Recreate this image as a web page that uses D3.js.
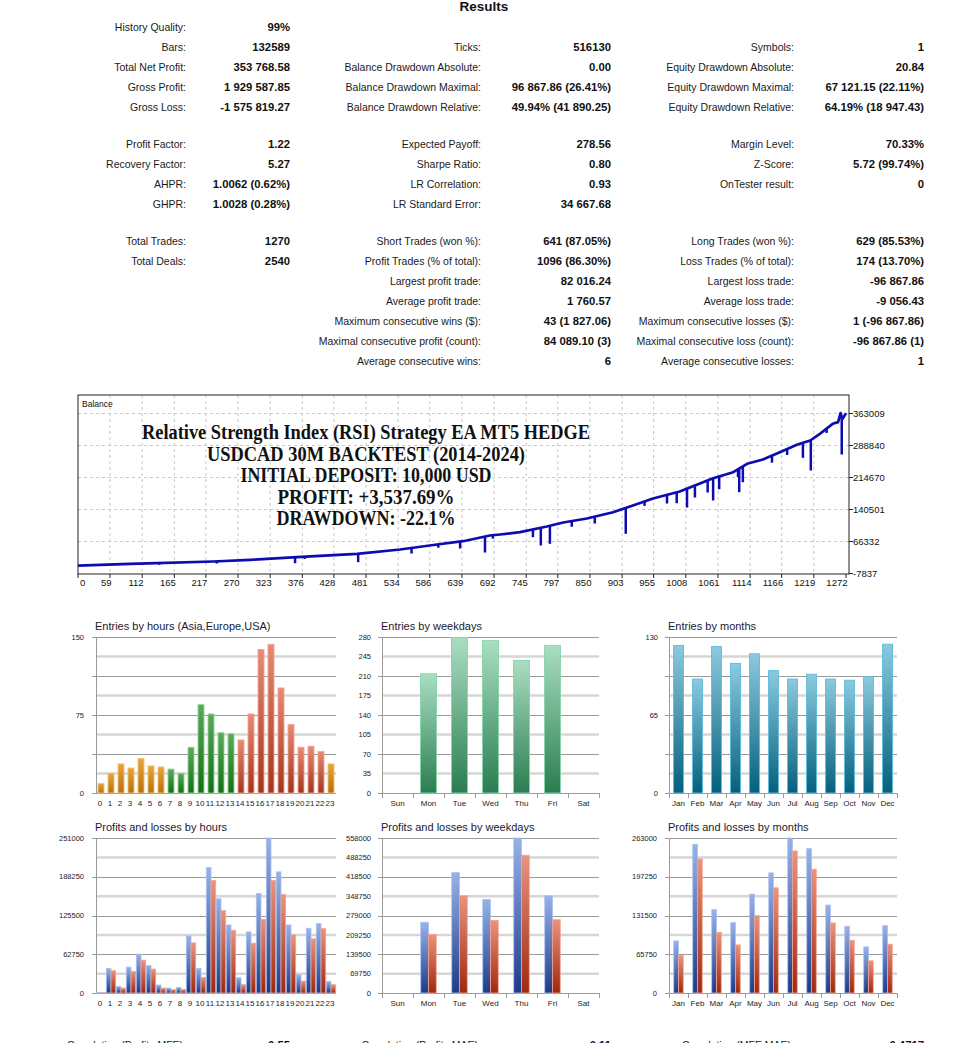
<!DOCTYPE html>
<html><head><meta charset="utf-8">
<script src="https://cdn.jsdelivr.net/npm/d3@7"></script>
<style>body{margin:0;background:#fff} svg{display:block}</style>
</head><body>
<svg id="c" width="964" height="1043"></svg>
<script>
// ---------------- DATA ----------------
const statsCol1 = [
  ["History Quality:", "99%"], ["Bars:", "132589"], ["Total Net Profit:", "353 768.58"],
  ["Gross Profit:", "1 929 587.85"], ["Gross Loss:", "-1 575 819.27"],
  ["Profit Factor:", "1.22"], ["Recovery Factor:", "5.27"], ["AHPR:", "1.0062 (0.62%)"], ["GHPR:", "1.0028 (0.28%)"],
  ["Total Trades:", "1270"], ["Total Deals:", "2540"], null, null, null, null, null
];
const statsCol2 = [
  null, ["Ticks:", "516130"], ["Balance Drawdown Absolute:", "0.00"],
  ["Balance Drawdown Maximal:", "96 867.86 (26.41%)"], ["Balance Drawdown Relative:", "49.94% (41 890.25)"],
  ["Expected Payoff:", "278.56"], ["Sharpe Ratio:", "0.80"], ["LR Correlation:", "0.93"], ["LR Standard Error:", "34 667.68"],
  ["Short Trades (won %):", "641 (87.05%)"], ["Profit Trades (% of total):", "1096 (86.30%)"],
  ["Largest profit trade:", "82 016.24"], ["Average profit trade:", "1 760.57"],
  ["Maximum consecutive wins ($):", "43 (1 827.06)"], ["Maximal consecutive profit (count):", "84 089.10 (3)"],
  ["Average consecutive wins:", "6"]
];
const statsCol3 = [
  null, ["Symbols:", "1"], ["Equity Drawdown Absolute:", "20.84"],
  ["Equity Drawdown Maximal:", "67 121.15 (22.11%)"], ["Equity Drawdown Relative:", "64.19% (18 947.43)"],
  ["Margin Level:", "70.33%"], ["Z-Score:", "5.72 (99.74%)"], ["OnTester result:", "0"], null,
  ["Long Trades (won %):", "629 (85.53%)"], ["Loss Trades (% of total):", "174 (13.70%)"],
  ["Largest loss trade:", "-96 867.86"], ["Average loss trade:", "-9 056.43"],
  ["Maximum consecutive losses ($):", "1 (-96 867.86)"], ["Maximal consecutive loss (count):", "-96 867.86 (1)"],
  ["Average consecutive losses:", "1"]
];
const correlationRow = [["Correlation (Profits,MFE):", "0.55"], ["Correlation (Profits,MAE):", "0.11"], ["Correlation (MFE,MAE):", "0.4717"]];

const balanceTitleLines = ["Relative Strength Index (RSI) Strategy EA MT5 HEDGE", "USDCAD 30M BACKTEST (2014-2024)",
  "INITIAL DEPOSIT: 10,000 USD", "PROFIT: +3,537.69%", "DRAWDOWN: -22.1%"];
const balXTicks = [0, 59, 112, 165, 217, 270, 323, 376, 428, 481, 534, 586, 639, 692, 745, 797, 850, 903, 955, 1008, 1061, 1114, 1166, 1219, 1272];
const balYTicks = [-7837, 66332, 140501, 214670, 288840, 363009];
const balTrades = [0, 92, 136, 229, 290, 367, 466, 537, 598, 641, 685, 702, 735, 779, 806, 845, 888, 916, 954, 998, 1053, 1086, 1109, 1135, 1163, 1191, 1213, 1229, 1250, 1259, 1263, 1266, 1272];
const balValues = [10000, 14600, 16000, 20000, 23900, 29900, 37800, 47800, 59400, 67000, 80200, 82600, 87900, 101100, 110400, 119600, 134200, 147500, 166000, 182200, 213000, 227000, 246400, 256400, 273300, 290500, 300400, 316000, 339100, 343000, 364000, 350000, 363768];
const spikeTrades = [140, 235, 364, 380, 468, 556, 600, 636, 677, 690, 756, 769, 784, 820, 858, 909, 940, 977, 993, 1010, 1023, 1044, 1053, 1063, 1094, 1096, 1102, 1150, 1175, 1201, 1214, 1240, 1265];
const spikeLows = [12300, 15300, 16000, 26000, 18400, 38500, 52000, 50100, 40800, 73000, 76300, 57100, 61000, 100500, 108000, 84200, 149000, 154400, 155100, 145100, 168300, 179900, 161400, 187500, 215400, 180600, 203800, 249000, 267000, 260300, 230900, 318000, 268000];

const hours = d3.range(24).map(String);
const hourSession = ["Asia","Asia","Asia","Asia","Asia","Asia","Asia","Europe","Europe","Europe","Europe","Europe","Europe","Europe",
  "USA","USA","USA","USA","USA","USA","USA","USA","USA","Asia"];
const hourEntries = [9, 19, 28, 24, 33, 26, 25, 23, 19, 44, 85, 76, 58, 57, 51, 76, 138, 143, 101, 66, 44, 45, 40, 28];
const hourEntryTicks = [0, 75, 150];
const weekdays = ["Sun", "Mon", "Tue", "Wed", "Thu", "Fri", "Sat"];
const weekdayEntries = [0, 214, 279, 274, 238, 265, 0];
const weekdayEntryTicks = [0, 35, 70, 105, 140, 175, 210, 245, 280];
const months = ["Jan", "Feb", "Mar", "Apr", "May", "Jun", "Jul", "Aug", "Sep", "Oct", "Nov", "Dec"];
const monthEntries = [123, 95, 122, 108, 116, 102, 95, 99, 95, 94, 97, 124];
const monthEntryTicks = [0, 65, 130];

const hourProfits = [1000, 40000, 10750, 41900, 62900, 44600, 12900, 8060, 9140, 92450, 39770, 203160, 152640, 110180, 24720, 98900, 161240, 251000, 196180, 110180, 29560, 104810, 112330, 18810];
const hourLosses = [600, 36000, 8060, 34940, 53210, 38700, 8060, 5370, 5910, 81160, 25260, 182200, 133300, 101580, 13440, 80620, 119320, 182200, 159630, 94060, 19350, 87610, 104270, 13440];
const hourPLTicks = [0, 62750, 125500, 188250, 251000];
const weekdayProfits = [0, 254500, 433700, 336950, 558000, 350100, 0];
const weekdayLosses = [0, 210300, 350100, 261700, 495860, 264060, 0];
const weekdayPLTicks = [0, 69750, 139500, 209250, 279000, 348750, 418500, 488250, 558000];
const monthProfits = [88420, 252300, 141350, 119390, 167830, 203870, 263000, 244980, 149240, 113200, 78280, 114320];
const monthLosses = [63640, 227520, 103060, 81660, 131220, 178520, 241040, 210060, 118830, 89540, 54630, 82790];
const monthPLTicks = [0, 65750, 131500, 197250, 263000];

// ---------------- DRAW ----------------
const SANS = "'Liberation Sans', Arial, sans-serif";
const svg = d3.select("#c");
const defs = svg.append("defs");
function grad(id, top, bottom) {
  const g = defs.append("linearGradient").attr("id", id).attr("x1", 0).attr("y1", 0).attr("x2", 0).attr("y2", 1);
  g.append("stop").attr("offset", "0%").attr("stop-color", top);
  g.append("stop").attr("offset", "100%").attr("stop-color", bottom);
}
grad("gAsia", "#e8a43c", "#b8700c");
grad("gEurope", "#5aaa5a", "#137017");
grad("gUSA", "#e88a76", "#a2361c");
grad("gWeek", "#aadec2", "#2a7d50");
grad("gMonth", "#8ccadf", "#04607c");
grad("gProfit", "#98b2e8", "#1d3a88");
grad("gLoss", "#ea937e", "#a0280e");
const sessionFill = {Asia: "url(#gAsia)", Europe: "url(#gEurope)", USA: "url(#gUSA)"};
const sessionStroke = {Asia: "#f4c074", Europe: "#98d498", USA: "#f2a696"};

// Title
svg.append("text").attr("x", 484).attr("y", 10.5).attr("text-anchor", "middle")
  .attr("font-family", SANS).attr("font-weight", "bold").attr("font-size", 13.5).attr("fill", "#111").text("Results");

// Stats table
const rowY = i => 27 + 20 * i + (i >= 5 ? 17 : 0) + (i >= 9 ? 17 : 0);
[[statsCol1, 186, 290], [statsCol2, 481, 611], [statsCol3, 794, 924]].forEach(([col, lx, vx]) => {
  col.forEach((r, i) => {
    if (!r) return;
    svg.append("text").attr("x", lx).attr("y", rowY(i)).attr("dy", "0.35em").attr("text-anchor", "end")
      .attr("font-family", SANS).attr("font-size", 10.5).attr("fill", "#1a1a1a").text(r[0]);
    svg.append("text").attr("x", vx).attr("y", rowY(i)).attr("dy", "0.35em").attr("text-anchor", "end")
      .attr("font-family", SANS).attr("font-weight", "bold").attr("font-size", 11.3).attr("fill", "#111").text(r[1]);
  });
});
[[186, 290], [481, 611], [794, 924]].forEach(([lx, vx], i) => {
  svg.append("text").attr("x", lx).attr("y", 1049).attr("text-anchor", "end")
    .attr("font-family", SANS).attr("font-size", 10.5).attr("fill", "#1a1a1a").text(correlationRow[i][0]);
  svg.append("text").attr("x", vx).attr("y", 1049).attr("text-anchor", "end")
    .attr("font-family", SANS).attr("font-weight", "bold").attr("font-size", 11.3).attr("fill", "#111").text(correlationRow[i][1]);
});

// Balance chart
const bL = 78, bR = 849, bT = 395, bB = 574;
const xBal = d3.scaleLinear().domain([0, 1272]).range([74.2, 846]);
const yBal = d3.scaleLinear().domain([-7837, 363009]).range([573.5, 413.5]);
const bg = svg.append("g");
bg.append("rect").attr("x", bL).attr("y", bT).attr("width", bR - bL).attr("height", bB - bT).attr("fill", "#fff");
balXTicks.slice(1, -1).forEach(t => {
  bg.append("line").attr("x1", xBal(t)).attr("x2", xBal(t)).attr("y1", bT).attr("y2", bB)
    .attr("stroke", "#c8c8c8").attr("stroke-dasharray", "3,3");
});
balYTicks.slice(1).forEach(t => {
  bg.append("line").attr("x1", bL).attr("x2", bR).attr("y1", yBal(t)).attr("y2", yBal(t))
    .attr("stroke", "#c8c8c8").attr("stroke-dasharray", "3,3");
});
bg.append("text").attr("x", 82).attr("y", 407).attr("font-family", SANS).attr("font-size", 8.5).attr("fill", "#111").text("Balance");
// title lines
const tWidths = [448, 318, 251, 177, 179];
balanceTitleLines.forEach((s, i) => {
  bg.append("text").attr("x", 366).attr("y", 439 + i * 21.6).attr("text-anchor", "middle")
    .attr("font-family", "'Liberation Serif', 'DejaVu Serif', serif").attr("font-weight", "bold").attr("font-size", 20)
    .attr("textLength", tWidths[i]).attr("lengthAdjust", "spacingAndGlyphs").attr("fill", "#111").text(s);
});
defs.append("clipPath").attr("id", "balClip").append("rect").attr("x", bL).attr("y", bT).attr("width", bR - bL).attr("height", bB - bT);
const balData = balTrades.map((t, i) => [t, balValues[i]]);
const balAt = t => {
  const i = d3.bisector(d => d[0]).left(balData, t);
  if (i <= 0) return balData[0][1];
  if (i >= balData.length) return balData[balData.length - 1][1];
  const a = balData[i - 1], b = balData[i];
  return a[1] + (b[1] - a[1]) * (t - a[0]) / (b[0] - a[0]);
};
const cg = bg.append("g").attr("clip-path", "url(#balClip)");
spikeTrades.forEach((t, i) => {
  cg.append("line").attr("x1", xBal(t)).attr("x2", xBal(t)).attr("y1", yBal(balAt(t))).attr("y2", yBal(spikeLows[i]))
    .attr("stroke", "#0c0cb0").attr("stroke-width", 2.5);
});
cg.append("path").datum(balData).attr("d", d3.line().x(d => xBal(d[0])).y(d => yBal(d[1])))
  .attr("fill", "none").attr("stroke", "#0c0cb0").attr("stroke-width", 2.7).attr("stroke-linejoin", "round");
bg.append("rect").attr("x", bL).attr("y", bT).attr("width", bR - bL).attr("height", bB - bT)
  .attr("fill", "none").attr("stroke", "#222").attr("stroke-width", 1);
balXTicks.forEach((t, i) => {
  const xx = i === 0 ? bL : xBal(t);
  bg.append("line").attr("x1", xx).attr("x2", xx).attr("y1", bB).attr("y2", bB + 4).attr("stroke", "#222");
  bg.append("text").attr("x", i === 0 ? 80 : xx + 1.5).attr("y", 585.5).attr("text-anchor", i === 0 ? "start" : "end")
    .attr("font-family", SANS).attr("font-size", 9.5).attr("fill", "#111").text(t);
});
balYTicks.forEach(t => {
  bg.append("line").attr("x1", bR).attr("x2", bR + 4).attr("y1", yBal(t)).attr("y2", yBal(t)).attr("stroke", "#222");
  bg.append("text").attr("x", 853).attr("y", yBal(t)).attr("dy", "0.35em")
    .attr("font-family", SANS).attr("font-size", 9.5).attr("fill", "#111").text(t);
});

// Bar panels
function panel(o) {
  const x = d3.scaleBand().domain(o.cats).range([o.x0, o.x1]);
  const y = d3.scaleLinear().domain([0, o.max]).range([o.bottom, o.top]);
  const g = svg.append("g");
  g.append("text").attr("x", o.x0 - 1).attr("y", o.top - 7).attr("font-family", SANS).attr("font-size", 11)
    .attr("fill", "#1a1a33").text(o.title);
  for (let i = 1; i <= 8; i += 2) {
    const yy = y(o.max * i / 8);
    g.append("line").attr("x1", o.x0).attr("x2", o.x1).attr("y1", yy).attr("y2", yy).attr("stroke", "#d6d6d6").attr("stroke-width", 2.5);
  }
  for (let i = 0; i <= 8; i += 2) {
    const yy = Math.round(y(o.max * i / 8)) + 0.5;
    g.append("line").attr("x1", o.x0 - 4).attr("x2", o.x1).attr("y1", yy).attr("y2", yy).attr("stroke", "#9a9a9a").attr("stroke-width", 1);
  }
  g.append("line").attr("x1", o.x0 + 0.5).attr("x2", o.x0 + 0.5).attr("y1", o.top).attr("y2", o.bottom + (o.xTicks ? 5 : 0)).attr("stroke", "#9a9a9a");
  if (o.xTicks) {
    o.cats.forEach(c => {
      const xx = Math.round(x(c) + x.bandwidth()) + 0.5;
      g.append("line").attr("x1", xx).attr("x2", xx).attr("y1", o.bottom).attr("y2", o.bottom + 5).attr("stroke", "#9a9a9a");
    });
  }
  o.ticks.forEach(v => {
    g.append("text").attr("x", o.labelX).attr("y", y(v)).attr("dy", "0.35em").attr("text-anchor", "end")
      .attr("font-family", SANS).attr("font-size", 7.5).attr("fill", "#222").text(v);
  });
  o.cats.forEach(c => {
    g.append("text").attr("x", x(c) + x.bandwidth() / 2 + (o.labelShift || 0)).attr("y", o.bottom + 12.5).attr("text-anchor", "middle")
      .attr("font-family", SANS).attr("font-size", 8).attr("fill", "#222").text(c);
  });
  const bw = x.bandwidth();
  if (o.values) {
    o.cats.forEach((c, i) => {
      const v = o.values[i]; if (!v) return;
      const w = bw * o.frac;
      g.append("rect").attr("x", x(c) + (bw - w) / 2).attr("y", y(v)).attr("width", w).attr("height", y(0) - y(v))
        .attr("fill", o.fill(i)).attr("stroke", o.stroke(i)).attr("stroke-width", 0.9);
    });
  } else {
    o.cats.forEach((c, i) => {
      const half = bw * o.frac / 2, cx = x(c) + bw / 2;
      const p = o.profits[i], l = o.losses[i];
      if (p) g.append("rect").attr("x", cx - half).attr("y", y(p)).attr("width", half).attr("height", y(0) - y(p))
        .attr("fill", "url(#gProfit)").attr("stroke", "#a8c0f0").attr("stroke-width", 0.8);
      if (l) g.append("rect").attr("x", cx).attr("y", y(l)).attr("width", half).attr("height", y(0) - y(l))
        .attr("fill", "url(#gLoss)").attr("stroke", "#f2a48e").attr("stroke-width", 0.8);
    });
  }
}

panel({x0: 96, x1: 336, top: 637, bottom: 793, title: "Entries by hours (Asia,Europe,USA)", cats: hours, max: 150,
  ticks: hourEntryTicks, labelX: 84, values: hourEntries, frac: 0.6, labelShift: -1,
  fill: i => sessionFill[hourSession[i]], stroke: i => sessionStroke[hourSession[i]]});
panel({x0: 382, x1: 599, top: 637, bottom: 793, title: "Entries by weekdays", cats: weekdays, max: 280,
  ticks: weekdayEntryTicks, labelX: 371, values: weekdayEntries, frac: 0.52, xTicks: true,
  fill: () => "url(#gWeek)", stroke: () => "#86d6aa"});
panel({x0: 669, x1: 897, top: 637, bottom: 793, title: "Entries by months", cats: months, max: 130,
  ticks: monthEntryTicks, labelX: 658, values: monthEntries, frac: 0.52, xTicks: true,
  fill: () => "url(#gMonth)", stroke: () => "#5cbcdc"});
panel({x0: 96, x1: 336, top: 838, bottom: 993, title: "Profits and losses by hours", cats: hours, max: 251000,
  ticks: hourPLTicks, labelX: 84, profits: hourProfits, losses: hourLosses, frac: 0.94, labelShift: -1});
panel({x0: 382, x1: 599, top: 838, bottom: 993, title: "Profits and losses by weekdays", cats: weekdays, max: 558000,
  ticks: weekdayPLTicks, labelX: 371, profits: weekdayProfits, losses: weekdayLosses, frac: 0.5, xTicks: true});
panel({x0: 669, x1: 897, top: 838, bottom: 993, title: "Profits and losses by months", cats: months, max: 263000,
  ticks: monthPLTicks, labelX: 657, profits: monthProfits, losses: monthLosses, frac: 0.5, xTicks: true});
</script>
</body></html>
